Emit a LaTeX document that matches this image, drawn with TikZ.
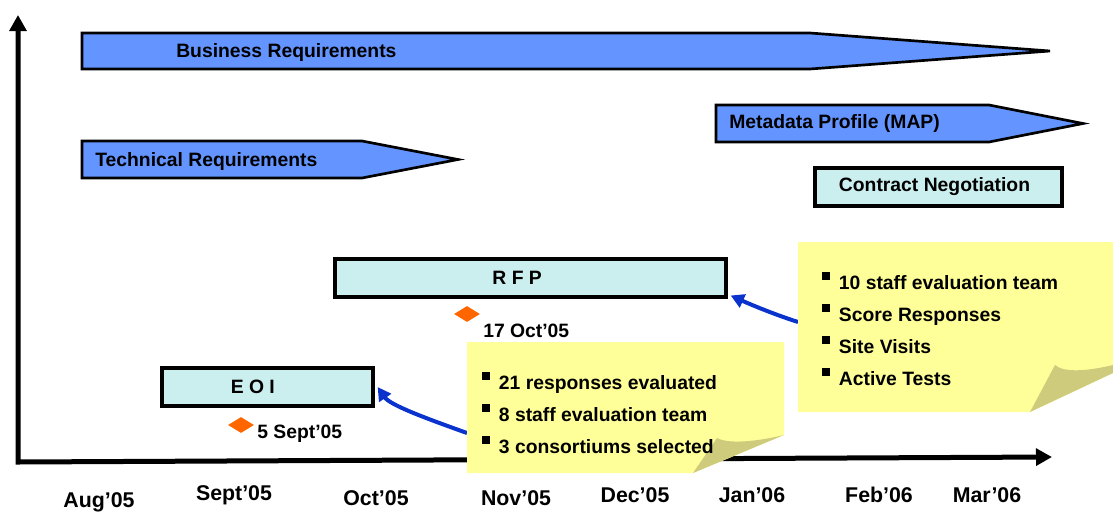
\documentclass[tikz,border=0pt]{standalone}
\usepackage{fontspec}
\setmainfont{Liberation Sans}
\usepackage{tikz}
\usetikzlibrary{arrows.meta,positioning,shapes.geometric}
\definecolor{barblue}{HTML}{6394FF}
\definecolor{gridcyan}{HTML}{CBEFEF}
\definecolor{noteyellow}{HTML}{FFFF99}
\definecolor{foldolive}{HTML}{CFCB7D}
\definecolor{callblue}{HTML}{0A32CC}
\definecolor{milestoneorange}{HTML}{FF6600}
\newcommand{\chartfont}{\fontsize{14.5}{17}\selectfont\bfseries}
\newcommand{\sqbullet}{\raisebox{6.5pt}{\rule{6pt}{6.5pt}}\hspace{6.5pt}}
% chevron bar: x left, x where the point starts, x tip, y top, y bottom
\newcommand{\phasebar}[5]{\draw[phase] (#1,#4) -- (#2,#4) -- (#3,{(#4+#5)/2})
  -- (#2,#5) -- (#1,#5) -- cycle;}
% task box: name, centre, width, text, text shift
\newcommand{\taskbox}[5]{\node[task,minimum width=#3] (#1) at (#2) {};
  \node[tasktext] (#1-text) at ([xshift=#5]#1.center) {#4};}

\begin{document}
\begin{tikzpicture}[x=0.75pt,y=-0.75pt,>=Latex,
  phase/.style={draw=black,line width=2pt,fill=barblue,line join=miter},
  task/.style={draw=black,line width=3pt,fill=gridcyan,minimum height=28.5pt,
    inner sep=0pt,outer sep=3.5pt},
  tasktext/.style={font=\chartfont,inner sep=0pt},
  barlabel/.style={font=\chartfont,anchor=base west,inner sep=0pt},
  milestone/.style={diamond,fill=milestoneorange,minimum width=19.5pt,
    minimum height=12pt,inner sep=0pt},
  datelabel/.style={font=\chartfont,anchor=base west,inner sep=0pt},
  bulletitem/.style={font=\chartfont,anchor=base west,inner sep=0pt},
  month/.style={font=\fontsize{16}{19}\selectfont\bfseries,inner sep=0pt},
  axis/.style={line width=3.75pt,line join=miter,
    {Triangle[length=12pt,width=12.5pt]}-{Triangle[length=12pt,width=12.5pt]}},
  callout/.style={draw=callblue,line width=3pt,
    -{Triangle[length=10pt,width=10.5pt]}}]
\useasboundingbox (0,0) rectangle (1113,511);

% axes
\coordinate (ytop) at (18,15);
\coordinate (origin) at (18,462);
\coordinate (xend) at (1052,457);
\draw[axis] (ytop) -- (origin) -- (xend);

% phases
\phasebar{82}{810}{1050}{33}{69}
\phasebar{82}{362}{458}{141}{178}
\phasebar{716}{989}{1083}{105}{142}
\node[barlabel] (busreq) at (176,57) {Business Requirements};
\node[barlabel] (techreq) at (95,166) {Technical Requirements};
\node[barlabel] (map) at (729,128) {Metadata Profile (MAP)};

% tasks
\taskbox{contract}{938.5,187}{185.25pt}{Contract Negotiation}{-3pt}
\taskbox{rfp}{530.5,278}{293.25pt}{R F P}{-10pt}
\taskbox{eoi}{267.5,387}{158.25pt}{E O I}{-11pt}

% milestones
\node[milestone] (rfpdate) at (467,314) {};
\node[datelabel] (rfpdate-text) at (483,337) {17 Oct’05};
\node[milestone] (eoidate) at (241,425) {};
\node[datelabel] (eoidate-text) at (257,438) {5 Sept’05};

% callouts
\coordinate (note1) at (467,433);
\coordinate (note2) at (798,322);
\draw[callout] (note1) .. controls (425,418) and (390,405) .. (eoi.east);
\draw[callout] (note2) .. controls (770,313) and (745,302) .. (rfp.-5);

% sticky notes
\fill[noteyellow] (467,342) -- (784,342) -- (784,435) -- (693,473) -- (467,473) -- cycle;
\fill[foldolive] (693,473) -- (717,438) .. controls (728,444) and (755,442) .. (784,435) -- cycle;
\fill[noteyellow] (798,242) -- (1113,242) -- (1113,373) -- (1030,412) -- (798,412) -- cycle;
\fill[foldolive] (1030,412) -- (1055,365) .. controls (1064,373) and (1088,371) .. (1113,365)
  -- (1113,373) -- cycle;

\foreach \txt [count=\i] in {21 responses evaluated,8 staff evaluation team,3 consortiums selected}
  \node[bulletitem] (eval-\i) at (482,{389+32*(\i-1)}) {\sqbullet\txt};
\foreach \txt [count=\i] in {10 staff evaluation team,Score Responses,Site Visits,Active Tests}
  \node[bulletitem] (score-\i) at (822,{289+32*(\i-1)}) {\sqbullet\txt};

% months
\foreach \mon/\x/\y [count=\i] in {Aug’05/99/502,Sept’05/234/495,Oct’05/376/498,
  Nov’05/516/498,Dec’05/635/495,Jan’06/752/495,Feb’06/879/495,Mar’06/987/495}
  \node[month] (m\i) at (\x,\y) {\mon};
\end{tikzpicture}
\end{document}
